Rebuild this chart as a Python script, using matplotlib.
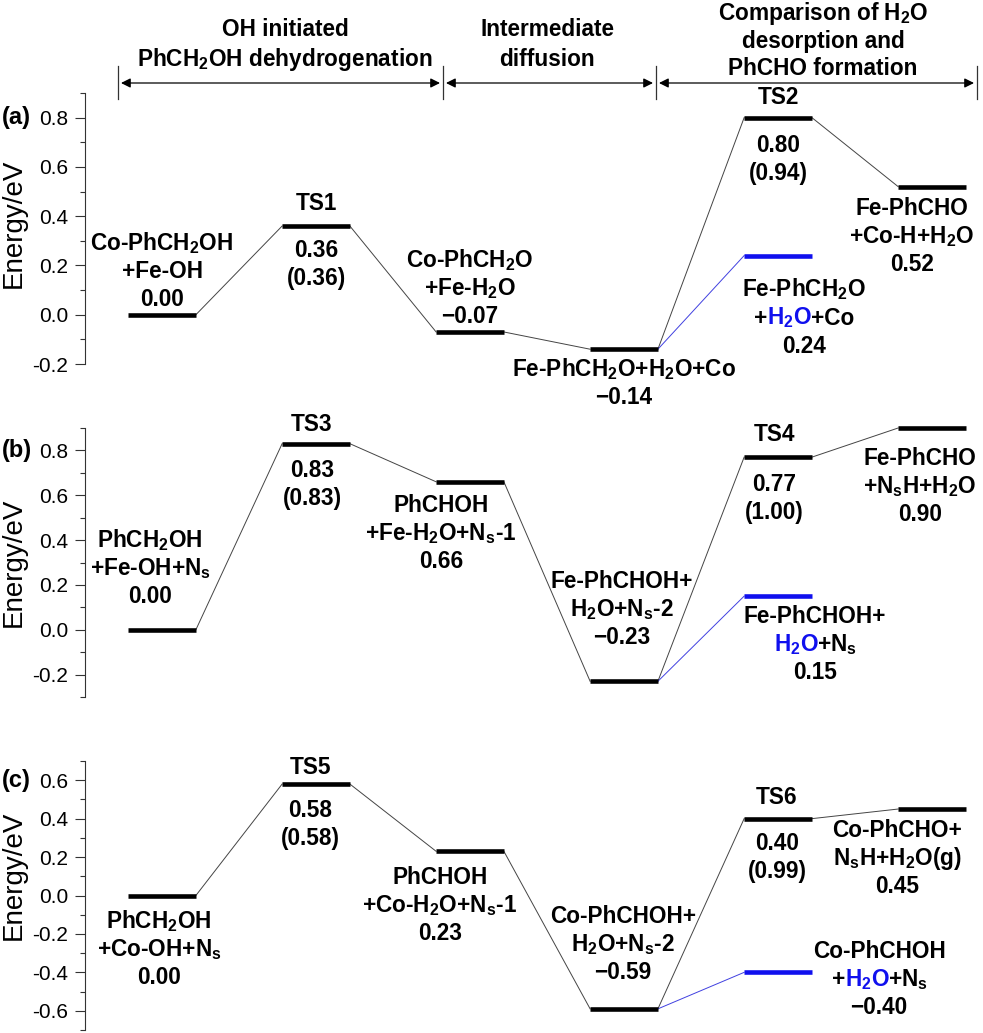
import re
import matplotlib
matplotlib.use("Agg")
import matplotlib.pyplot as plt
from matplotlib.ticker import MultipleLocator

plt.rcParams["font.family"] = ["Liberation Sans", "DejaVu Sans"]
plt.rcParams["mathtext.default"] = "regular"
plt.rcParams["axes.unicode_minus"] = False

# ---- data -------------------------------------------------------------
steps = [1, 2, 3, 4, 5, 6]

a_energy = [0.00, 0.36, -0.07, -0.14, 0.80, 0.52]
b_energy = [0.00, 0.83, 0.66, -0.23, 0.77, 0.90]
c_energy = [0.00, 0.58, 0.23, -0.59, 0.40, 0.45]

# H2O desorption branch (blue), drawn at step 5
a_desorb = 0.24
b_desorb = 0.15
c_desorb = -0.40

a_ylim = (-0.2, 0.9)
b_ylim = (-0.3, 0.9)
c_ylim = (-0.7, 0.7)

# label texts ({...} = blue part)
a_labels = [
    ["Co-PhCH$_2$OH", "+Fe-OH", "0.00"],
    ["TS1"], ["0.36", "(0.36)"],
    ["Co-PhCH$_2$O", "+Fe-H$_2$O", "\u22120.07"],
    ["Fe-PhCH$_2$O+H$_2$O+Co", "\u22120.14"],
    ["TS2"], ["0.80", "(0.94)"],
    ["Fe-PhCH$_2$O", "+{H$_2$O}+Co", "0.24"],
    ["Fe-PhCHO", "+Co-H+H$_2$O", "0.52"],
]
b_labels = [
    ["PhCH$_2$OH", "+Fe-OH+N$_s$", "0.00"],
    ["TS3"], ["0.83", "(0.83)"],
    ["PhCHOH", "+Fe-H$_2$O+N$_s$-1", "0.66"],
    ["Fe-PhCHOH+", "H$_2$O+N$_s$-2", "\u22120.23"],
    ["TS4"], ["0.77", "(1.00)"],
    ["Fe-PhCHOH+", "{H$_2$O}+N$_s$", "0.15"],
    ["Fe-PhCHO", "+N$_s$H+H$_2$O", "0.90"],
]
c_labels = [
    ["PhCH$_2$OH", "+Co-OH+N$_s$", "0.00"],
    ["TS5"], ["0.58", "(0.58)"],
    ["PhCHOH", "+Co-H$_2$O+N$_s$-1", "0.23"],
    ["Co-PhCHOH+", "H$_2$O+N$_s$-2", "\u22120.59"],
    ["TS6"], ["0.40", "(0.99)"],
    ["Co-PhCHOH", "+{H$_2$O}+N$_s$", "\u22120.40"],
    ["Co-PhCHO+", "N$_s$H+H$_2$O(g)", "0.45"],
]

# layout: (anchor level index or 'd' for desorption, dx px, dy px of first line)
a_pos = [(0, 0, 73), (1, 0, 24), (1, 0, -23), (2, 0, 73), (3, 0, -19),
         (4, 0, 22), (4, 0, -26), ("d", 26, -33), (5, -20, -20)]
b_pos = [(0, -12, 91), (1, -4, 21), (1, -4, -25), (2, -29, -22), (3, -2, 101),
         (4, -4, 24), (4, -4, -26), ("d", 37, -19), (5, -12, -29)]
c_pos = [(0, -3, -25), (1, -6, 18), (1, -6, -25), (2, -30, -25), (3, -1, 94),
         (4, -1, 23), (4, -1, -23), ("d", 101, 22), (5, -35, -20)]

BLUE = "#1010ee"
HW = 0.22      # half width of an energy level
LSP = 28       # line spacing in px
FS = 16.3

W, H = 983, 1033
fig = plt.figure(figsize=(W / 100, H / 100), dpi=100)
renderer = fig.canvas.get_renderer()


def put_line(ax, x, y, dx, dy, line):
    segs = [s for s in re.split(r"(\{[^}]*\})", line) if s]
    texts = []
    for s in segs:
        col = BLUE if s.startswith("{") else "black"
        t = ax.annotate(s.strip("{}"), (x, y), xytext=(dx, dy),
                        textcoords="offset pixels", ha="left", va="baseline",
                        fontsize=FS, fontweight="bold", color=col,
                        annotation_clip=False)
        texts.append(t)
    widths = []
    for t in texts:
        w = t.get_window_extent(renderer).width
        if len(texts) > 1 and "$" in t.get_text():
            w -= 1.5   # mathtext boxes carry a little trailing space
        widths.append(w)
    start = dx - sum(widths) / 2
    for t, w in zip(texts, widths):
        t.xyann = (start, dy)
        start += w


def panel(rect, energy, desorb, ylim, labels, pos, tag, ylab_y):
    ax = fig.add_axes(rect)
    # connecting lines
    for i in range(len(steps) - 1):
        ax.plot([steps[i] + HW, steps[i + 1] - HW], [energy[i], energy[i + 1]],
                color="#444444", lw=0.7, clip_on=False)
    ax.plot([steps[3] + HW, steps[4] - HW], [energy[3], desorb],
            color="#4040e0", lw=0.7, clip_on=False)
    # levels
    for s, e in zip(steps, energy):
        ax.plot([s - HW, s + HW], [e, e], color="black", lw=3.3,
                solid_capstyle="butt", clip_on=False)
    ax.plot([steps[4] - HW, steps[4] + HW], [desorb, desorb], color=BLUE,
            lw=3.3, solid_capstyle="butt", clip_on=False)

    ax.set_xlim(0.5, 6.331)
    ax.set_ylim(*ylim)
    for sp in ["top", "right", "bottom"]:
        ax.spines[sp].set_visible(False)
    ax.spines["left"].set_linewidth(0.8)
    ax.spines["left"].set_color("#333333")
    ax.set_xticks([])
    ax.yaxis.set_major_locator(MultipleLocator(0.2))
    ax.yaxis.set_minor_locator(MultipleLocator(0.1))
    ax.tick_params(axis="y", which="major", direction="out", length=7,
                   width=0.8, labelsize=15, pad=5, color="#333333")
    ax.tick_params(axis="y", which="minor", direction="out", length=3.5,
                   width=0.8, color="#333333")
    ax.patch.set_visible(False)

    ax.text(-0.079, ylab_y, "Energy/eV", transform=ax.transAxes, rotation=90,
            ha="center", va="center", fontsize=20)
    ax.text(-0.076, 0.8 if tag != "(c)" else 0.6, tag,
            transform=ax.get_yaxis_transform(), ha="center", va="center",
            fontsize=17, fontweight="bold")

    for (anc, dx, dy), lines in zip(pos, labels):
        if anc == "d":
            x, y = steps[4], desorb
        else:
            x, y = steps[anc], energy[anc]
        for k, line in enumerate(lines):
            put_line(ax, x, y, dx, dy - k * LSP - 8, line)
    return ax


left = 85 / W
width = (W - 85) / W
panel([left, (H - 364) / H, width, 271 / H], a_energy, a_desorb, a_ylim,
      a_labels, a_pos, "(a)", 0.52)
panel([left, (H - 697) / H, width, 269 / H], b_energy, b_desorb, b_ylim,
      b_labels, b_pos, "(b)", 0.5)
panel([left, (H - 1030) / H, width, 269 / H], c_energy, c_desorb, c_ylim,
      c_labels, c_pos, "(c)", 0.574)

# ---- header with stage arrows ----------------------------------------
hdr = fig.add_axes([0, 0, 1, 1])
hdr.set_xlim(0, W)
hdr.set_ylim(H, 0)
hdr.axis("off")
hdr.patch.set_visible(False)

bounds = [118, 443, 656, 977]
for xb in bounds:
    hdr.plot([xb, xb], [66, 99], color="#333333", lw=0.9)
for x0, x1 in zip(bounds[:-1], bounds[1:]):
    hdr.annotate("", xy=(x1 - 3, 83), xytext=(x0 + 3, 83),
                 arrowprops=dict(arrowstyle="<|-|>", color="black", lw=0.9,
                                 mutation_scale=14, shrinkA=0, shrinkB=0))

stage_titles = [
    (285, [(28, "OH initiated"), (58, "PhCH$_2$OH dehydrogenation")]),
    (547, [(28, "Intermediate"), (58, "diffusion")]),
    (823, [(12, "Comparison of H$_2$O"), (40, "desorption and"),
           (67, "PhCHO formation")]),
]
for xc, rows in stage_titles:
    for yc, txt in rows:
        hdr.text(xc, yc + 8, txt, ha="center", va="baseline",
                 fontsize=FS, fontweight="bold")

fig.savefig("out.png", dpi=100)
